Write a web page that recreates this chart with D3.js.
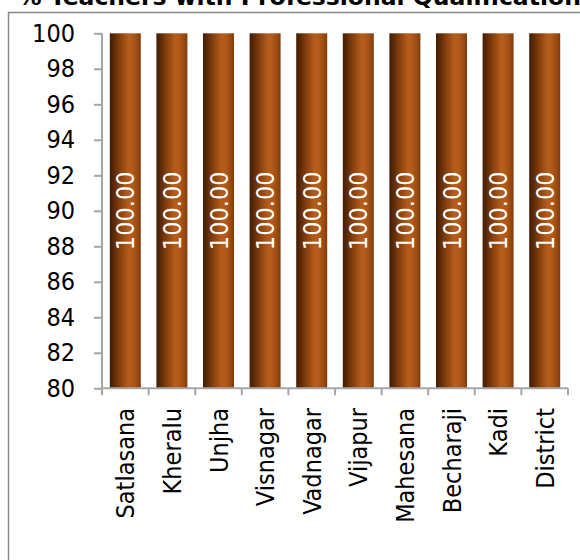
<!DOCTYPE html>
<html>
<head>
<meta charset="utf-8">
<script src="https://cdn.jsdelivr.net/npm/d3@7"></script>
<style>
  html, body { margin: 0; padding: 0; background: #fff; }
  svg { display: block; }
</style>
</head>
<body>
<svg id="chart" width="580" height="560"></svg>
<script>
// Blocks of Mahesana district and the share of teachers holding a professional qualification
const categories = ["Satlasana", "Kheralu", "Unjha", "Visnagar", "Vadnagar", "Vijapur", "Mahesana", "Becharaji", "Kadi", "District"];
const values = [100, 100, 100, 100, 100, 100, 100, 100, 100, 100];
const yTicks = [80, 82, 84, 86, 88, 90, 92, 94, 96, 98, 100];
const title = "% Teachers with Professional Qualification";

const svg = d3.select("#chart");
const font = "'DejaVu Sans Condensed', 'DejaVu Sans', Verdana, sans-serif";

// outer frame of the chart area (runs past the right and bottom edges)
svg.append("rect")
  .attr("x", 8.5).attr("y", 12.5)
  .attr("width", 600).attr("height", 600)
  .attr("fill", "none")
  .attr("stroke", "#868686")
  .attr("stroke-width", 1.5);

// title, partly above the top of the canvas
svg.append("text")
  .attr("x", 18).attr("y", 5)
  .attr("font-family", "'DejaVu Sans', Verdana, sans-serif")
  .attr("font-weight", "bold")
  .attr("font-size", 23.5)
  .attr("fill", "#000")
  .text(title);

const x = d3.scaleBand().domain(categories).range([102, 568]).paddingInner(0.335).paddingOuter(0.1675);
const y = d3.scaleLinear().domain([80, 100]).range([388.3, 33.3]);

// cylinder-like shading for the bars
const defs = svg.append("defs");
const grad = defs.append("linearGradient").attr("id", "barGrad")
  .attr("x1", "0%").attr("x2", "100%").attr("y1", "0%").attr("y2", "0%");
[
  [0, "#431d03"], [0.12, "#5a2806"], [0.35, "#8a420e"], [0.6, "#b65d1c"],
  [0.72, "#b35a1a"], [0.88, "#9c4c12"], [1, "#7e3b0b"]
].forEach(([o, c]) => grad.append("stop").attr("offset", o).attr("stop-color", c));

svg.append("g")
  .selectAll("rect")
  .data(categories.map((c, i) => ({ c, v: values[i] })))
  .join("rect")
  .attr("x", d => x(d.c))
  .attr("y", d => y(d.v))
  .attr("width", x.bandwidth())
  .attr("height", d => y(80) - y(d.v))
  .attr("fill", "url(#barGrad)");

// y axis
const yAxis = svg.append("g")
  .attr("transform", "translate(102,0)")
  .call(d3.axisLeft(y).tickValues(yTicks).tickSize(8).tickPadding(19).tickFormat(d3.format("d")));
yAxis.selectAll("line, path").attr("stroke", "#a6a6a6").attr("stroke-width", 2);
yAxis.select("path").attr("d", `M0,${y(80)}V${y(100)}`);
yAxis.selectAll("text")
  .attr("font-family", font).attr("font-size", 25).attr("fill", "#000");

// x axis with ticks on band boundaries
const xAxisG = svg.append("g").attr("transform", `translate(0,${y(80)})`);
xAxisG.append("line")
  .attr("x1", 102).attr("x2", 568).attr("y1", 0).attr("y2", 0)
  .attr("stroke", "#a6a6a6").attr("stroke-width", 2);
const step = x.step();
const bounds = d3.range(categories.length + 1).map(i => 102 + i * step);
xAxisG.selectAll("line.tick")
  .data(bounds)
  .join("line")
  .attr("class", "tick")
  .attr("x1", d => d).attr("x2", d => d)
  .attr("y1", 0).attr("y2", 7)
  .attr("stroke", "#a6a6a6").attr("stroke-width", 2);

// rotated category names
svg.append("g")
  .selectAll("text")
  .data(categories)
  .join("text")
  .attr("transform", d => `translate(${x(d) + x.bandwidth() / 2},408) rotate(-90)`)
  .attr("text-anchor", "end")
  .attr("dy", "0.36em")
  .attr("font-family", font)
  .attr("font-size", 25)
  .attr("fill", "#000")
  .text(d => d);

// value labels inside the bars
svg.append("g")
  .selectAll("text")
  .data(categories.map((c, i) => ({ c, v: values[i] })))
  .join("text")
  .attr("transform", d => `translate(${x(d.c) + x.bandwidth() / 2},${(y(d.v) + y(80)) / 2}) rotate(-90)`)
  .attr("text-anchor", "middle")
  .attr("dy", "0.36em")
  .attr("font-family", font)
  .attr("font-size", 25)
  .attr("fill", "#fff")
  .text(d => d.v.toFixed(2));
</script>
</body>
</html>
